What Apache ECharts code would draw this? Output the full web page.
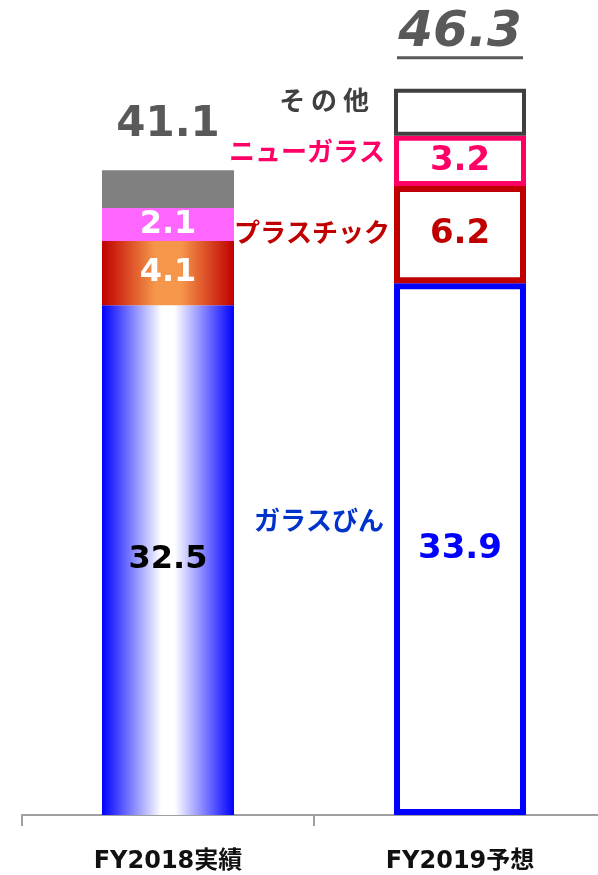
<!DOCTYPE html>
<html>
<head>
<meta charset="utf-8">
<script src="https://cdn.jsdelivr.net/npm/echarts@6/dist/echarts.min.js"></script>
<style>
html,body{margin:0;padding:0;background:#fff;}
#chart{width:598px;height:875px;}
</style>
</head>
<body>
<div id="chart"></div>
<script>
const categories = ['FY2018実績', 'FY2019予想'];
const glassBottle = [32.5, 33.9];
const plastic = [4.1, 6.2];
const newGlass = [2.1, 3.2];
const other = [2.4, 3.0];
const totals = [41.1, 46.3];
const seriesNames = ['ガラスびん', 'プラスチック', 'ニューガラス', 'そ の 他'];

const NUM_FONT = "'DejaVu Sans', Verdana, sans-serif";
const JP_FONT = "'Noto Sans CJK JP', sans-serif";

function grad(edge, center, a, b) {
  return {
    type: 'linear', x: 0, y: 0, x2: 1, y2: 0,
    colorStops: [
      {offset: 0, color: edge},
      {offset: a, color: center},
      {offset: b, color: center},
      {offset: 1, color: edge}
    ]
  };
}

const fills2018 = [
  grad('#0000FF', '#FFFFFF', 0.45, 0.55),
  grad('#C00000', '#F5964A', 0.4, 0.6),
  '#FF66FF',
  '#808080'
];
const borders2019 = ['#0000FF', '#C00000', '#FF0066', '#404040'];
const borderW2019 = [6, 6, 5, 4];
const valueColors2018 = ['#000000', '#FFFFFF', '#FFFFFF', null];
const valueColors2019 = ['#0000FF', '#C00000', '#FF0066', null];
const nameColors = ['#0033CC', '#C00000', '#FF0066', '#404040'];
const nameOffsets = [[0, -29], [0, -2], [0, -10], [0, -12]];
const nameDistances = [10, 4, 9, 25];

const segValues = [glassBottle, plastic, newGlass, other];

const series = [];
segValues.forEach((vals, s) => {
  const data = vals.map((v, i) => {
    const item = {value: v};
    if (i === 0) {
      item.itemStyle = {color: fills2018[s], borderWidth: 0};
    } else {
      item.itemStyle = {color: '#FFFFFF', borderColor: borders2019[s], borderWidth: borderW2019[s]};
    }
    const vc = i === 0 ? valueColors2018[s] : valueColors2019[s];
    if (vc) {
      item.label = {
        show: true, position: 'inside', color: vc,
        fontFamily: NUM_FONT, fontWeight: 'bold', fontSize: i === 0 ? 32 : 34,
        formatter: v.toFixed(1)
      };
    }
    if (s === 3) {
      if (i === 0) {
        item.label = {
          show: true, position: 'top', distance: 24,
          formatter: '{s|' + totals[0].toFixed(1) + '}',
          rich: {s: {fontFamily: NUM_FONT, fontWeight: 'bold', fontSize: 42, color: '#595959'}}
        };
      } else {
        item.label = {
          show: true, position: 'top', distance: 29,
          formatter: '{t|' + totals[1].toFixed(1) + '}\n{u|}',
          rich: {
            t: {fontFamily: NUM_FONT, fontWeight: 'bold', fontStyle: 'italic', fontSize: 50, color: '#595959', lineHeight: 46, align: 'center'},
            u: {width: 126, height: 3, backgroundColor: '#595959', lineHeight: 4, align: 'center'}
          }
        };
      }
    }
    return item;
  });
  series.push({
    name: seriesNames[s], type: 'bar', stack: 'main', barWidth: 132, barGap: '-100%',
    silent: true, data: data, label: {show: false}
  });
});

// overlay series carrying the segment names at the left of the FY2019 bar
segValues.forEach((vals, s) => {
  series.push({
    name: seriesNames[s] + '_name', type: 'bar', stack: 'names', barWidth: 132, barGap: '-100%',
    silent: true, z: 5,
    itemStyle: {color: 'rgba(0,0,0,0)'},
    data: vals.map((v, i) => ({
      value: v,
      label: {
        show: i === 1, position: 'left', distance: nameDistances[s], offset: nameOffsets[s],
        formatter: seriesNames[s], color: nameColors[s],
        fontFamily: JP_FONT, fontWeight: 'bold', fontSize: 26
      }
    }))
  });
});

const chart = echarts.init(document.getElementById('chart'), null, {renderer: 'canvas'});
chart.setOption({
  animation: false,
  backgroundColor: '#FFFFFF',
  grid: {left: 22, top: 15, right: -8, bottom: 60, containLabel: false, outerBoundsMode: 'none'},
  xAxis: {
    type: 'category', data: categories,
    axisLine: {lineStyle: {color: '#A0A0A0', width: 2}},
    axisTick: {show: true, length: 11, lineStyle: {color: '#A0A0A0', width: 2}},
    axisLabel: {
      margin: 35, color: '#111', fontSize: 24, fontWeight: 'bold',
      fontFamily: "'DejaVu Sans', 'Noto Sans CJK JP', sans-serif"
    }
  },
  yAxis: {
    type: 'value', min: 0, max: 51, show: false,
    splitLine: {show: false}
  },
  series: series
});
</script>
</body>
</html>
